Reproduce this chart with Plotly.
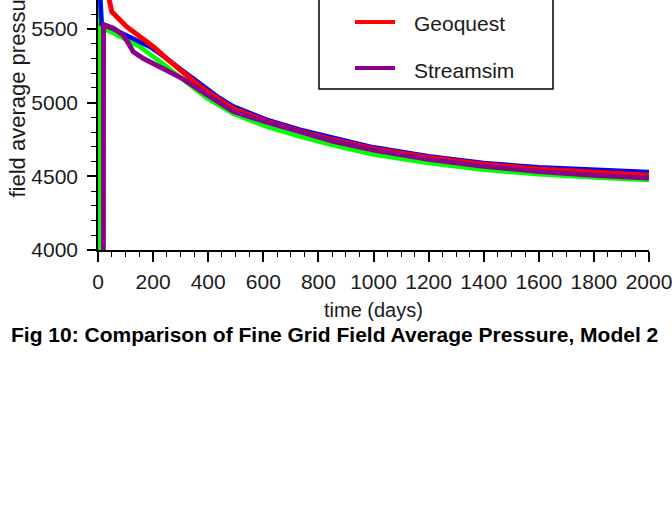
import plotly.graph_objects as go

# ---- data ----
green_t = [0, 3, 14, 50, 100, 152, 200, 250, 323, 395, 490, 612, 733, 854, 1000, 1200, 1400, 1600, 1800, 2000]
green_p = [0, 6000, 5510, 5480, 5430, 5380, 5315, 5243, 5135, 5030, 4925, 4838, 4770, 4710, 4648, 4590, 4545, 4514, 4492, 4475]

blue_t = [0, 13, 56, 128, 189, 249, 310, 370, 431, 491, 612, 733, 854, 1000, 1200, 1400, 1600, 1800, 2000]
blue_p = [6000, 5535, 5500, 5435, 5378, 5300, 5215, 5125, 5045, 4975, 4885, 4817, 4762, 4697, 4637, 4590, 4562, 4545, 4530]

geoquest_t = [0, 50, 104, 152, 201, 249, 310, 370, 431, 491, 612, 733, 854, 1000, 1200, 1400, 1600, 1800, 2000]
geoquest_p = [6050, 5618, 5516, 5448, 5380, 5300, 5205, 5112, 5032, 4960, 4875, 4806, 4748, 4688, 4628, 4582, 4550, 4527, 4508]

streamsim_t = [18, 20, 56, 91, 110, 128, 165, 213, 250, 310, 370, 431, 491, 612, 733, 854, 1000, 1200, 1400, 1600, 1800, 2000]
streamsim_p = [0, 5530, 5505, 5460, 5405, 5345, 5300, 5255, 5215, 5160, 5085, 5012, 4940, 4868, 4800, 4738, 4678, 4615, 4568, 4533, 4508, 4488]

x_ticks = [0, 200, 400, 600, 800, 1000, 1200, 1400, 1600, 1800, 2000]
y_ticks = [4000, 4500, 5000, 5500]

x_title = "time (days)"
y_title = "field average pressure (psi)"
caption = "Fig 10: Comparison of Fine Grid Field Average Pressure, Model 2"
legend_names = ["Geoquest", "Streamsim"]
legend_colors = ["#ff0000", "#8c008c"]

# ---- layout geometry (pixels) ----
W, H = 672, 518
L, R, T, B = 98, 23, 0, 268
PW = W - L - R
PH = H - T - B

def px(x):
    return (x - L) / PW

def py(y):
    return (H - B - y) / PH

FONT = "Liberation Sans, Arial, sans-serif"
TXT = "#1a1a1a"

fig = go.Figure()
fig.add_trace(go.Scatter(x=green_t, y=green_p, mode="lines", line=dict(color="#00ff00", width=4.5), showlegend=False))
fig.add_trace(go.Scatter(x=blue_t, y=blue_p, mode="lines", line=dict(color="#0000ff", width=4.5), showlegend=False))
fig.add_trace(go.Scatter(x=geoquest_t, y=geoquest_p, mode="lines", name="Geoquest", line=dict(color="#ff0000", width=5), showlegend=False))
fig.add_trace(go.Scatter(x=streamsim_t, y=streamsim_p, mode="lines", name="Streamsim", line=dict(color="#8c008c", width=5), showlegend=False))

fig.update_layout(
    width=W, height=H,
    margin=dict(l=L, r=R, t=T, b=B, autoexpand=False),
    paper_bgcolor="white", plot_bgcolor="white",
    font=dict(family=FONT, size=21, color=TXT),
    showlegend=False,
)
fig.update_xaxes(
    range=[0, 2000], tickvals=x_ticks, ticks="outside", ticklen=10, tickwidth=1.5, tickcolor="black",
    showline=True, linecolor="black", linewidth=2, showgrid=False, zeroline=False,
    tickfont=dict(size=21, color=TXT), ticklabelstandoff=2, ticklabeloverflow="allow",
    minor=dict(ticks="outside", dtick=50, ticklen=5, tickwidth=1, tickcolor="black", showgrid=False),
)
fig.update_yaxes(
    range=[4000, 5697], tickvals=y_ticks, ticks="outside", ticklen=9, tickwidth=1.5, tickcolor="black",
    showline=True, linecolor="black", linewidth=1.5, showgrid=False, zeroline=False,
    tickfont=dict(size=21, color=TXT), ticklabelstandoff=5, ticklabeloverflow="allow",
    minor=dict(ticks="outside", dtick=100, ticklen=5, tickwidth=1, tickcolor="black", showgrid=False),
)

shapes = [
    dict(type="rect", xref="paper", yref="paper", x0=px(319), x1=px(553), y0=py(89), y1=py(-200),
         line=dict(color="black", width=1.5), fillcolor="white", layer="above"),
]
annotations = []
for i, (name, col) in enumerate(zip(legend_names, legend_colors)):
    yy = 22 + 46 * i
    shapes.append(dict(type="line", xref="paper", yref="paper", x0=px(355), x1=px(395), y0=py(yy), y1=py(yy),
                       line=dict(color=col, width=4), layer="above"))
    annotations.append(dict(text=name, xref="paper", yref="paper", x=px(412), y=py(yy + 2),
                            xanchor="left", yanchor="middle", showarrow=False,
                            font=dict(size=21, color=TXT, family=FONT)))

annotations.append(dict(text=x_title, xref="paper", yref="paper", x=0.5, y=py(310),
                        xanchor="center", yanchor="middle", showarrow=False,
                        font=dict(size=20, color=TXT, family=FONT)))
annotations.append(dict(text=y_title, xref="paper", yref="paper", x=px(17), y=py(200),
                        xanchor="center", yanchor="bottom", textangle=-90, showarrow=False,
                        font=dict(size=22, color=TXT, family=FONT)))
annotations.append(dict(text="<b>" + caption + "</b>", xref="paper", yref="paper", x=px(334), y=py(334),
                        xanchor="center", yanchor="middle", showarrow=False,
                        font=dict(size=21, color="black", family=FONT)))

fig.update_layout(shapes=shapes, annotations=annotations)
fig.write_html("out.html")
